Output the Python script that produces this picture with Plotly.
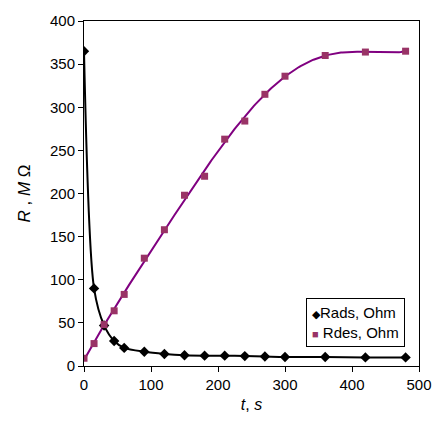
import numpy as np
import plotly.graph_objects as go

# Measurement times, s
t = [0, 15, 30, 45, 60, 90, 120, 150, 180, 210, 240, 270, 300, 360, 420, 480]
# Resistance during adsorption, MOhm
r_ads = [365, 90, 47, 29, 21, 16.5, 14, 12.5, 12, 12, 11.5, 11, 10.5, 10.5, 10, 10]
# Resistance during desorption, MOhm
r_des = [9, 26, 48, 64, 83, 125, 158, 198, 220, 263, 284, 315, 336, 360, 364, 365]

x_ticks = [0, 100, 200, 300, 400, 500]
y_ticks = [0, 50, 100, 150, 200, 250, 300, 350, 400]

font = "Liberation Sans, Arial, sans-serif"
plum = "#993366"
purple = "#800080"

# polynomial trend line for the desorption branch (plateau points weighted more)
ts = np.array(t, dtype=float) / 480.0
weights = np.where(np.array(t) >= 300, 3.0, 1.0)
coef = np.polyfit(ts, np.array(r_des, dtype=float), 5, w=weights)
t_fit = np.linspace(0, 480, 200)
r_fit = np.polyval(coef, t_fit / 480.0)

fig = go.Figure()

fig.add_trace(go.Scatter(x=t, y=r_ads, mode="lines",
                         line=dict(color="black", width=2, shape="spline", smoothing=0.8),
                         showlegend=False, hoverinfo="skip"))
fig.add_trace(go.Scatter(x=t_fit, y=r_fit, mode="lines",
                         line=dict(color=purple, width=2),
                         showlegend=False, hoverinfo="skip"))
fig.add_trace(go.Scatter(x=t, y=r_ads, mode="markers", name="Rads, Ohm", showlegend=False,
                         marker=dict(symbol="diamond", size=8, color="black")))
fig.add_trace(go.Scatter(x=t, y=r_des, mode="markers", name="Rdes, Ohm", showlegend=False,
                         marker=dict(symbol="square", size=7, color=plum, line=dict(width=0))))

axis_common = dict(showline=True, linecolor="black", linewidth=1, mirror=True, showgrid=False,
                   zeroline=False, ticks="outside", ticklen=5, tickcolor="black",
                   tickfont=dict(family=font, size=15, color="black"))

fig.update_xaxes(range=[0, 500], tickvals=x_ticks, **axis_common,
                 title=dict(text="<i>t</i>, <i>s</i>", font=dict(family=font, size=16, color="black"), standoff=6))
fig.update_yaxes(range=[0, 400], tickvals=y_ticks, **axis_common,
                 title=dict(text="<i>R</i> , <i>M</i> Ω", font=dict(family=font, size=17, color="black"), standoff=15))

# legend box
fig.add_annotation(
    xref="paper", yref="paper", x=0.662, y=0.198, xanchor="left", yanchor="top",
    text=(f"<span style='color:black;font-size:11px'>◆</span>Rads, Ohm<br>"
          f"<span style='color:{plum};font-size:11px'>■</span> Rdes, Ohm"),
    align="left", showarrow=False,
    font=dict(family=font, size=15, color="black"),
    bordercolor="black", borderwidth=1, borderpad=5, bgcolor="white",
)

fig.update_layout(
    width=444, height=433,
    margin=dict(l=84, r=16, t=17, b=67),
    plot_bgcolor="white", paper_bgcolor="white",
    font=dict(family=font, size=15, color="black"),
    showlegend=False,
)

fig.write_html("out.html")
